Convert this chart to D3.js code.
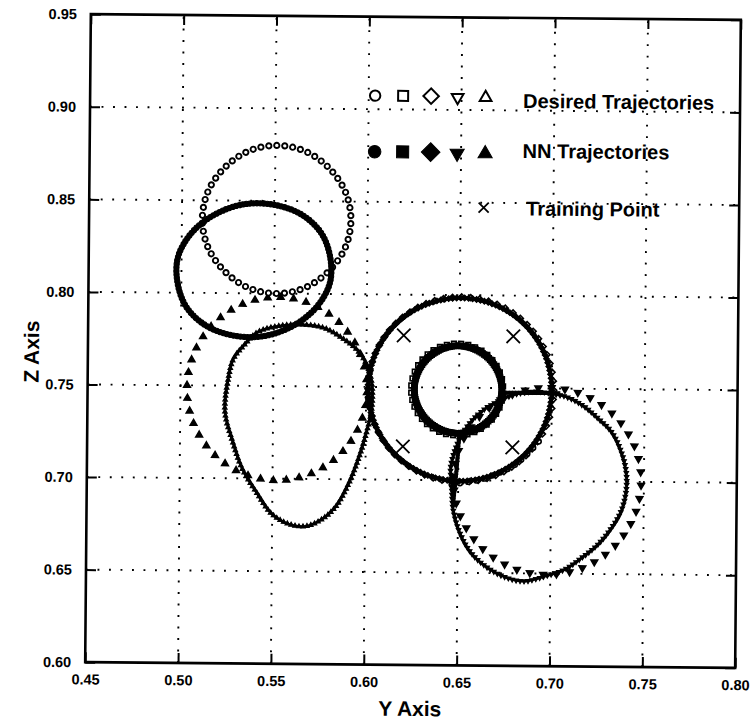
<!DOCTYPE html>
<html>
<head>
<meta charset="utf-8">
<script src="https://cdn.jsdelivr.net/npm/d3@7"></script>
<style>
  body { margin: 0; background: #fff; }
  text { font-family: "Liberation Sans", Arial, Helvetica, sans-serif; font-weight: bold; fill: #000; }
</style>
</head>
<body>
<svg id="chart" width="756" height="721"></svg>
<script>
// ---- axis ticks ----
const yAxisTicks = [0.45, 0.50, 0.55, 0.60, 0.65, 0.70, 0.75, 0.80];
const zAxisTicks = [0.60, 0.65, 0.70, 0.75, 0.80, 0.85, 0.90, 0.95];

// ---- desired trajectories: [Y, Z] points around each closed loop ----
const desiredCircle = [[0.591,0.840],[0.588,0.855],[0.579,0.868],[0.566,0.877],[0.551,0.880],[0.536,0.877],[0.523,0.868],[0.514,0.855],[0.511,0.840],[0.514,0.825],[0.523,0.812],[0.536,0.803],[0.551,0.800],[0.566,0.803],[0.579,0.812],[0.588,0.825]];
const desiredSquare = [[0.6738,0.749],[0.6719,0.7585],[0.6665,0.7665],[0.6585,0.7719],[0.649,0.7738],[0.6395,0.7719],[0.6315,0.7665],[0.6261,0.7585],[0.6242,0.749],[0.6261,0.7395],[0.6315,0.7315],[0.6395,0.7261],[0.649,0.7242],[0.6585,0.7261],[0.6665,0.7315],[0.6719,0.7395]];
const desiredDiamond = [[0.701,0.749],[0.6972,0.7682],[0.6864,0.7844],[0.6702,0.7952],[0.651,0.799],[0.6318,0.7952],[0.6156,0.7844],[0.6048,0.7682],[0.601,0.749],[0.6048,0.7298],[0.6156,0.7136],[0.6318,0.7028],[0.651,0.699],[0.6702,0.7028],[0.6864,0.7136],[0.6972,0.7298]];
const desiredTriDown = [[0.7485,0.700],[0.7447,0.7193],[0.7337,0.7357],[0.7173,0.7467],[0.698,0.7505],[0.6787,0.7467],[0.6623,0.7357],[0.6513,0.7193],[0.6475,0.700],[0.6513,0.6807],[0.6623,0.6643],[0.6787,0.6533],[0.698,0.6495],[0.7173,0.6533],[0.7337,0.6643],[0.7447,0.6807]];
const desiredTriUp = [[0.6005,0.7485],[0.5968,0.7675],[0.5863,0.7835],[0.5706,0.7942],[0.552,0.798],[0.5334,0.7942],[0.5177,0.7835],[0.5072,0.7675],[0.5035,0.7485],[0.5072,0.7295],[0.5177,0.7135],[0.5334,0.7028],[0.552,0.699],[0.5706,0.7028],[0.5863,0.7135],[0.5968,0.7295]];
const desiredLeadIn = [[0.6465,0.6976],[0.6556,0.6992],[0.6636,0.7008],[0.6690,0.7030],[0.6755,0.7057],[0.6808,0.7089],[0.6851,0.7127],[0.6894,0.7170],[0.6932,0.7213]];

// ---- NN trajectories ----
const nnCircle = [[0.580,0.820],[0.575,0.833],[0.564,0.843],[0.549,0.848],[0.533,0.848],[0.517,0.842],[0.505,0.832],[0.498,0.819],[0.498,0.805],[0.503,0.792],[0.514,0.782],[0.529,0.777],[0.545,0.777],[0.561,0.783],[0.573,0.793],[0.580,0.806]];
const nnSquare = [[0.6731,0.749],[0.6713,0.758],[0.6662,0.7657],[0.6585,0.7708],[0.6495,0.7726],[0.6405,0.7708],[0.6328,0.7657],[0.6277,0.758],[0.6259,0.749],[0.6277,0.740],[0.6328,0.7323],[0.6405,0.7272],[0.6495,0.7254],[0.6585,0.7272],[0.6662,0.7323],[0.6713,0.740]];
const nnDiamond = [[0.700,0.749],[0.6962,0.768],[0.6855,0.784],[0.6695,0.7947],[0.6505,0.7985],[0.6315,0.7947],[0.6155,0.784],[0.6048,0.768],[0.601,0.749],[0.6048,0.730],[0.6155,0.714],[0.6315,0.7033],[0.6505,0.6995],[0.6695,0.7033],[0.6855,0.714],[0.6962,0.730]];
const nnTriDown = [[0.6465,0.6981],[0.6475,0.6836],[0.6513,0.6711],[0.6572,0.6609],[0.6663,0.6528],[0.6771,0.6474],[0.6862,0.6458],[0.6969,0.6485],[0.7077,0.6523],[0.7162,0.6582],[0.7254,0.6658],[0.7324,0.6744],[0.7377,0.6836],[0.7404,0.6943],[0.7404,0.7051],[0.7377,0.7159],[0.7324,0.7267],[0.7254,0.7337],[0.7162,0.7413],[0.7077,0.7456],[0.7001,0.7472],[0.6916,0.7483],[0.6824,0.7472],[0.6733,0.7440],[0.6626,0.7375],[0.6540,0.7283],[0.6486,0.7175],[0.6459,0.7067]];
const nnTriUp = [[0.5257,0.7537],[0.5241,0.7359],[0.5284,0.7197],[0.5337,0.7051],[0.5413,0.6927],[0.5498,0.6809],[0.5590,0.6755],[0.5681,0.6744],[0.5767,0.6782],[0.5842,0.6852],[0.5912,0.6981],[0.5965,0.7121],[0.6003,0.7251],[0.6030,0.7375],[0.6030,0.7521],[0.6003,0.7618],[0.5949,0.7699],[0.5858,0.7769],[0.5767,0.7817],[0.5643,0.7833],[0.5520,0.7823],[0.5413,0.7790],[0.5337,0.7715],[0.5284,0.7645]];
const nnSpokeA = [[0.6745,0.7475],[0.7035,0.7475]];
const nnSpokeB = [[0.6502,0.7225],[0.6490,0.7050],[0.6475,0.6890]];

// ---- training points ----
const trainingPoints = [[0.620,0.778],[0.679,0.778],[0.620,0.718],[0.679,0.718]];

// ---- legend ----
const legendRows = ["Desired Trajectories", "NN Trajectories", "Training Point"];

const svg = d3.select("#chart");
const W = 756, H = 721;
const margin = { left: 88, right: 18, top: 17, bottom: 56 };
const x = d3.scaleLinear().domain([0.45, 0.80]).range([margin.left, W - margin.right]);
const y = d3.scaleLinear().domain([0.60, 0.95]).range([H - margin.bottom, margin.top]);

// the whole figure sits slightly rotated, as printed
const root = svg.append("g").attr("transform", "rotate(0.5, 413, 341)");

// dotted grid at inner ticks
const grid = root.append("g");
grid.selectAll("line.v").data(yAxisTicks.slice(1, -1)).join("line")
  .attr("x1", d => x(d)).attr("x2", d => x(d))
  .attr("y1", y(0.60)).attr("y2", y(0.95))
  .attr("stroke", "#000").attr("stroke-width", 1.9).attr("stroke-dasharray", "1.9,9.6");
grid.selectAll("line.h").data(zAxisTicks.slice(1, -1)).join("line")
  .attr("y1", d => y(d)).attr("y2", d => y(d))
  .attr("x1", x(0.45)).attr("x2", x(0.80))
  .attr("stroke", "#000").attr("stroke-width", 1.9).attr("stroke-dasharray", "1.9,9.6");

// axes with inward ticks
const fmt = d3.format(".2f");
const axB = root.append("g").attr("transform", `translate(0,${y(0.60)})`)
  .call(d3.axisBottom(x).tickValues(yAxisTicks).tickSizeInner(-10).tickSizeOuter(0).tickPadding(12).tickFormat(fmt));
const axL = root.append("g").attr("transform", `translate(${x(0.45)},0)`)
  .call(d3.axisLeft(y).tickValues(zAxisTicks).tickSizeInner(-10).tickSizeOuter(0).tickPadding(14).tickFormat(fmt));
const axT = root.append("g").attr("transform", `translate(0,${y(0.95)})`)
  .call(d3.axisTop(x).tickValues(yAxisTicks).tickSizeInner(-10).tickSizeOuter(0).tickFormat(""));
const axR = root.append("g").attr("transform", `translate(${x(0.80)},0)`)
  .call(d3.axisRight(y).tickValues(zAxisTicks).tickSizeInner(-10).tickSizeOuter(0).tickFormat(""));
[axB, axL, axT, axR].forEach(a => {
  a.select(".domain").remove();
  a.selectAll(".tick line").attr("stroke", "#000").attr("stroke-width", 2);
  a.selectAll("text").attr("font-size", 14.5).attr("font-family", "Liberation Sans, Arial, sans-serif").attr("font-weight", "bold").attr("fill", "#000");
});

// axis titles
root.append("text").attr("x", 413).attr("y", 716).attr("text-anchor", "middle").attr("font-size", 21).text("Y Axis");
root.append("text").attr("transform", "translate(39,355) rotate(-90)").attr("text-anchor", "middle").attr("font-size", 21).text("Z Axis");

// trajectories
const plot = root.append("g");
const lineClosed = d3.line().x(d => x(d[0])).y(d => y(d[1])).curve(d3.curveCatmullRomClosed.alpha(0.5));
const lineOpen = d3.line().x(d => x(d[0])).y(d => y(d[1])).curve(d3.curveCatmullRom.alpha(0.5));

function symbolPath(type, size) { return d3.symbol().type(type).size(size)(); }

// draw a trajectory as markers spaced evenly along a smooth curve through its points
function drawTrack(pts, opt) {
  const path = plot.append("path")
    .attr("d", (opt.closed ? lineClosed : lineOpen)(pts))
    .attr("fill", "none")
    .attr("stroke", opt.line ? "#000" : "none")
    .attr("stroke-width", opt.line || 0);
  const node = path.node();
  const L = node.getTotalLength();
  const n = opt.count || Math.max(2, Math.round(L / opt.spacing));
  const step = opt.closed ? L / n : L / Math.max(1, n - 1);
  const marks = d3.range(n).map(i => node.getPointAtLength(Math.min(L, i * step)));
  const shape = symbolPath(opt.symbol, opt.size);
  plot.append("g").selectAll("path").data(marks).join("path")
    .attr("d", shape)
    .attr("transform", p => `translate(${p.x},${p.y}) rotate(${opt.rotate || 0})`)
    .attr("fill", opt.filled ? "#000" : "#fff")
    .attr("stroke", "#000")
    .attr("stroke-width", opt.stroke || 1);
}

// desired (open markers)
drawTrack(desiredTriUp,   { closed: true, symbol: d3.symbolTriangle, size: 20, count: 44, stroke: 1.5, filled: true });
drawTrack(desiredTriDown, { closed: true, symbol: d3.symbolTriangle, size: 20, rotate: 180, count: 44, stroke: 1.5, filled: true });
drawTrack(desiredCircle,  { closed: true, symbol: d3.symbolCircle, size: 22, count: 58, stroke: 1.9 });
drawTrack(desiredDiamond, { closed: true, symbol: d3.symbolSquare, size: 18, rotate: 45, count: 64, stroke: 1.6 });
drawTrack(desiredSquare,  { closed: true, symbol: d3.symbolSquare, size: 22, count: 40, stroke: 1.6 });
drawTrack(desiredLeadIn,  { closed: false, symbol: d3.symbolCircle, size: 18, spacing: 8, stroke: 1.6 });

// NN (filled markers, densely spaced)
drawTrack(nnCircle,  { closed: true, symbol: d3.symbolCircle, size: 22, spacing: 3.5, filled: true, line: 3 });
drawTrack(nnTriUp,   { closed: true, symbol: d3.symbolTriangle, size: 10, spacing: 4, filled: true, line: 2.6 });
drawTrack(nnTriDown, { closed: true, symbol: d3.symbolTriangle, size: 10, rotate: 180, spacing: 4, filled: true, line: 2.6 });
drawTrack(nnDiamond, { closed: true, symbol: d3.symbolSquare, size: 18, rotate: 45, spacing: 4, filled: true, line: 3.6 });
drawTrack(nnSquare,  { closed: true, symbol: d3.symbolSquare, size: 30, spacing: 2, filled: true, line: 6 });
drawTrack(nnSpokeA,  { closed: false, symbol: d3.symbolSquare, size: 9, spacing: 3, filled: true, line: 2.4 });
drawTrack(nnSpokeB,  { closed: false, symbol: d3.symbolSquare, size: 9, spacing: 3, filled: true, line: 2.4 });

// training points
plot.append("g").selectAll("path").data(trainingPoints).join("path")
  .attr("d", symbolPath(d3.symbolX, 120))
  .attr("transform", d => `translate(${x(d[0])},${y(d[1])})`)
  .attr("fill", "none").attr("stroke", "#000").attr("stroke-width", 1.8);

// frame
root.append("rect")
  .attr("x", x(0.45)).attr("y", y(0.95))
  .attr("width", x(0.80) - x(0.45)).attr("height", y(0.60) - y(0.95))
  .attr("fill", "none").attr("stroke", "#000").attr("stroke-width", 2.6);

// legend
const lg = root.append("g");
const legendTypes = [
  { type: d3.symbolCircle, size: 85, rot: 0 },
  { type: d3.symbolSquare, size: 100, rot: 0 },
  { type: d3.symbolSquare, size: 120, rot: 45 },
  { type: d3.symbolTriangle, size: 60, rot: 180 },
  { type: d3.symbolTriangle, size: 60, rot: 0 }
];
const legendX = [373, 401, 429, 455.5, 483.5];
[{ yy: 96, filled: false }, { yy: 152, filled: true }].forEach(row => {
  lg.append("g").selectAll("path").data(legendTypes).join("path")
    .attr("d", d => symbolPath(d.type, row.filled ? d.size * 1.45 : d.size))
    .attr("transform", (d, i) => `translate(${legendX[i]},${row.yy + (d.type === d3.symbolTriangle ? 1 : 0)}) rotate(${d.rot})`)
    .attr("fill", row.filled ? "#000" : "#fff")
    .attr("stroke", "#000").attr("stroke-width", row.filled ? 1 : 2);
});
lg.append("path").attr("d", symbolPath(d3.symbolX, 68))
  .attr("transform", "translate(482.5,207)")
  .attr("fill", "none").attr("stroke", "#000").attr("stroke-width", 1.8);
lg.selectAll("text").data(legendRows).join("text")
  .attr("x", (d, i) => i === 2 ? 525 : 521)
  .attr("y", (d, i) => [107, 157, 214.5][i])
  .attr("font-size", 20)
  .text(d => d);
</script>
</body>
</html>
